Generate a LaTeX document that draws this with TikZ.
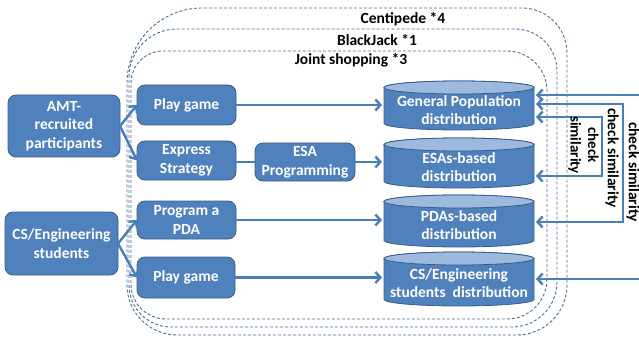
\documentclass[tikz,border=0pt]{standalone}
\usepackage{fontspec}
\setmainfont{Carlito}
\usetikzlibrary{arrows.meta}

\definecolor{boxfill}{HTML}{4F81BD}
\definecolor{boxline}{HTML}{385D8A}
\definecolor{linkblue}{HTML}{4A7EBB}
\definecolor{captop}{HTML}{9DB9DD}
\definecolor{frameblue}{HTML}{4D6D9A}

% dashed frame with four separately rounded corners:
% #1 left, #2 top, #3 right, #4 bottom, #5..#8 radii (TL, TR, BR, BL)
\newcommand\dashframe[8]{%
  \draw[frame] (#1,#2+#5) .. controls (#1,#2+0.448*#5) and (#1+0.448*#5,#2) .. (#1+#5,#2)
    -- (#3-#6,#2) .. controls (#3-0.448*#6,#2) and (#3,#2+0.448*#6) .. (#3,#2+#6)
    -- (#3,#4-#7) .. controls (#3,#4-0.448*#7) and (#3-0.448*#7,#4) .. (#3-#7,#4)
    -- (#1+#8,#4) .. controls (#1+0.448*#8,#4) and (#1,#4-0.448*#8) .. (#1,#4-#8)
    -- cycle;}

\begin{document}
\begin{tikzpicture}[x=1pt,y=-1pt,
  font=\fontsize{15.5}{18.5}\selectfont\bfseries,
  task/.style={draw=boxline, line width=0.8pt, fill=boxfill, text=white,
    rounded corners=8pt, align=center, inner sep=0pt, outer sep=0pt},
  cyltext/.style={text=white, align=center, inner sep=0pt,
    minimum width=150pt, minimum height=30pt, outer xsep=2pt},
  frame/.style={draw=frameblue, line width=0.9pt, dash pattern=on 3pt off 2pt},
  link/.style={draw=linkblue, line width=2.4pt,
    -{Straight Barb[length=5pt,width=11pt]}},
  bilink/.style={draw=linkblue, line width=2.4pt,
    {Straight Barb[length=5pt,width=11pt]}-{Straight Barb[length=5pt,width=11pt]}},
  plainlink/.style={draw=linkblue, line width=2.4pt},
  caption/.style={text=black, inner sep=0pt},
  sidenote/.style={text=black, inner sep=0pt, rotate=-90, align=center}]

\useasboundingbox (0,0) rectangle (639,339);

% game frames
\dashframe{127}{8}{567}{335}{75}{45}{50}{50}
\dashframe{129}{29}{557}{327}{48}{42}{45}{42}
\dashframe{131}{51}{547}{319}{32}{40}{40}{35}

\node[caption] (tcent) at (403,19) {Centipede *4};
\node[caption] (tblack) at (377,40) {BlackJack *1};
\node[caption] (tjoint) at (351,60) {Joint shopping *3};

% participant groups
\node[task, minimum width=112pt, minimum height=62pt] (amt) at (64,126) {AMT-\\recruited\\participants};
\node[task, minimum width=113pt, minimum height=63pt] (cs) at (61.5,243.5) {CS/Engineering\\students};

% activities
\node[task, minimum width=99pt, minimum height=40pt] (pg1) at (186.5,105) {Play game};
\node[task, minimum width=99pt, minimum height=39pt] (es) at (186.5,160.5) {Express\\Strategy};
\node[task, minimum width=100pt, minimum height=38pt] (esa) at (305,162) {ESA\\Programming};
\node[task, minimum width=99pt, minimum height=38pt] (pda) at (186.5,220) {Program a\\PDA};
\node[task, minimum width=98pt, minimum height=41pt] (pg2) at (186,277.5) {Play game};

% distribution stores
\foreach \t/\b in {81/130,138/188,195/247,252/306}{
  \filldraw[draw=boxline, line width=0.8pt, fill=boxfill]
    (384,\t+6.5) -- (384,\b-6.5)
    arc[start angle=180, end angle=360, x radius=75pt, y radius=6.5pt]
    -- (534,\t+6.5)
    arc[start angle=0, end angle=180, x radius=75pt, y radius=6.5pt] -- cycle;
  \filldraw[draw=boxline, line width=0.8pt, fill=captop]
    (459,\t+6.5) ellipse[x radius=75pt, y radius=6.5pt];
}
\node[cyltext] (gp) at (459,110) {General Population\\distribution};
\node[cyltext] (esd) at (459,167) {ESAs-based\\distribution};
\node[cyltext] (pdd) at (459,225) {PDAs-based\\distribution};
\node[cyltext] (csd) at (459,283) {CS/Engineering\\students\ \ distribution};

% flow from participants to distributions
\draw[link] (amt.east) -- (pg1.west);
\draw[link] (amt.east) -- (es.west);
\draw[link] (cs.east) -- (pda.west);
\draw[link] (cs.east) -- (pg2.west);
\draw[link] (pg1.east) -- (pg1.east -| gp.west);
\draw[plainlink] (es.east |- esa.west) -- (esa.west);
\draw[link] (esa.east) -- (esa.east -| esd.west);
\draw[link] (pda.east) -- (pda.east -| pdd.west);
\draw[link] (pg2.east) -- (pg2.east -| csd.west);

% similarity checks
\coordinate (oa) at (660,95);
\coordinate (ob) at (660,279);
\coordinate (ma) at (623,104);
\coordinate (mb) at (623,222);
\coordinate (ia) at (602,117);
\coordinate (ib) at (602,176);
\draw[bilink] (gp.east |- oa) -- (oa) -- (ob) -- (csd.east |- ob);
\draw[bilink] (gp.east |- ma) -- (ma) -- (mb) -- (pdd.east |- mb);
\draw[bilink] (gp.east |- ia) -- (ia) -- (ib) -- (esd.east |- ib);

\node[sidenote] (so) at (633,172) {check similarity};
\node[sidenote] (sm) at (612,158) {check similarity};
\node[sidenote, font=\fontsize{15}{17.5}\selectfont\bfseries] (si) at (583.5,145) {check\\similarity};

\end{tikzpicture}
\end{document}
